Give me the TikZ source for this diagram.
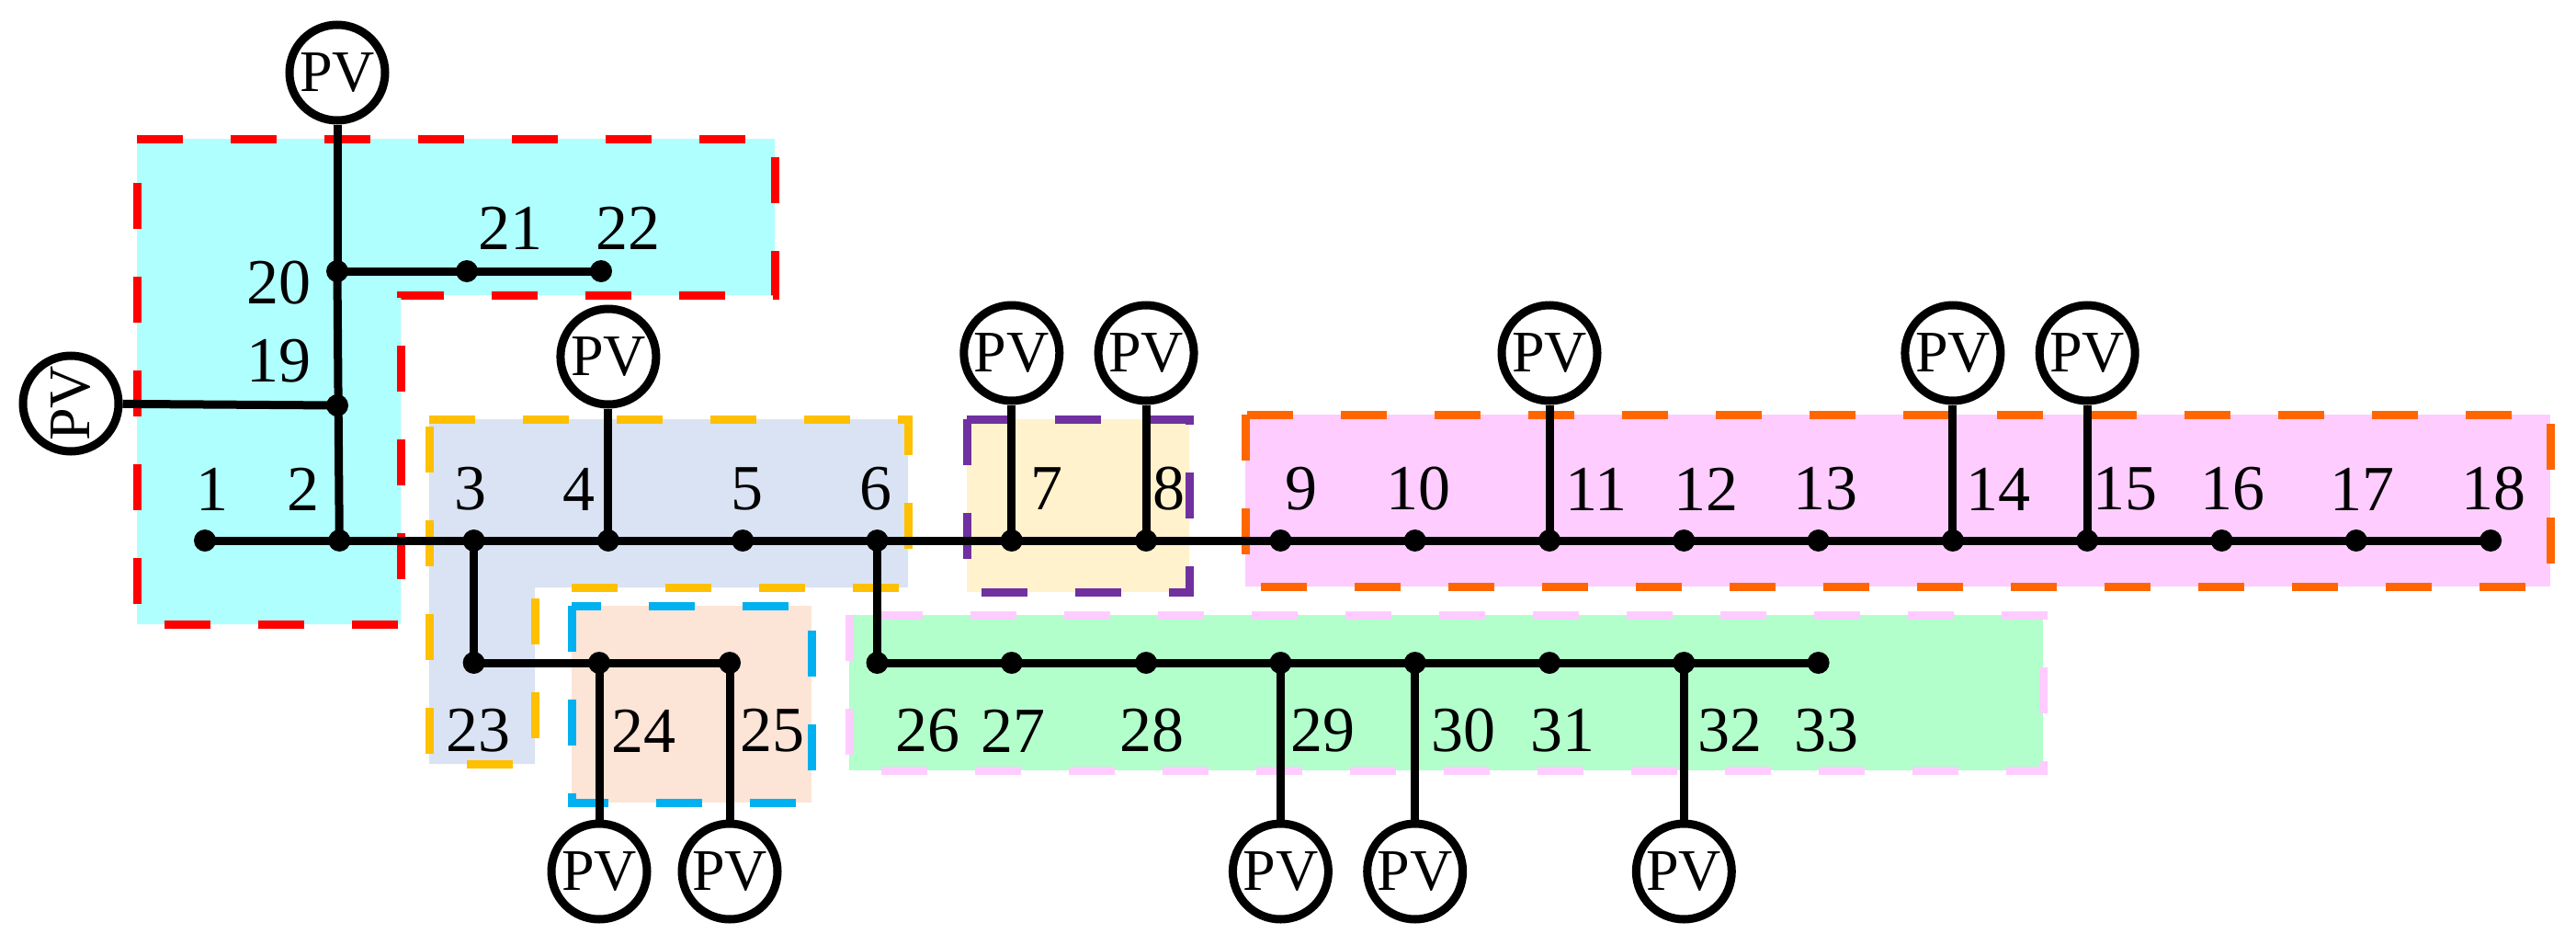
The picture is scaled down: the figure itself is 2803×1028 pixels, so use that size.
\documentclass[tikz,border=0pt]{standalone}
\usepackage{fontspec}
\setmainfont{Liberation Serif}
\begin{document}
\begin{tikzpicture}[x=1pt,y=-1pt,
  zone/.style={line width=9pt,dash pattern=on 50pt off 52pt},
  wire/.style={line width=9pt,black},
  bus/.style={circle,fill=black,inner sep=0pt,minimum size=24pt},
  pv/.style={circle,draw,line width=9pt,fill=white,inner sep=0pt,minimum size=104pt,font=\fontsize{64}{64}\selectfont},
  lab/.style={font=\fontsize{70}{70}\selectfont,inner sep=0pt}]
\useasboundingbox (0,0) rectangle (2803,1028);
\definecolor{cyanf}{HTML}{B0FFFF}\definecolor{bluef}{HTML}{DAE3F3}
\definecolor{peach}{HTML}{FCE4D6}\definecolor{yelf}{HTML}{FFF2CC}
\definecolor{pinkf}{HTML}{FFCCFF}\definecolor{greenf}{HTML}{B3FFCC}
\definecolor{yel}{HTML}{FFC000}\definecolor{purp}{HTML}{7030A0}
\definecolor{skyb}{HTML}{00B0F0}\definecolor{oran}{HTML}{FF6600}
% zones
\fill[cyanf] (149,151) -- (843,151) -- (843,321) -- (436,321) -- (436,679) -- (149,679) -- cycle;
\draw[zone,red] (149,151) -- (843,151) -- (843,321) -- (436,321) -- (436,679) -- (149,679) -- cycle;
\fill[bluef] (467,456) -- (988,456) -- (988,639) -- (582,639) -- (582,831) -- (467,831) -- cycle;
\draw[zone,yel] (467,456) -- (988,456) -- (988,639) -- (582,639) -- (582,831) -- (467,831) -- cycle;
\fill[peach] (622,659) rectangle (883,873);
\draw[zone,skyb] (622,659) rectangle (883,873);
\fill[yelf] (1052,456) rectangle (1294,644);
\draw[zone,purp] (1052,456) rectangle (1294,644);
\fill[pinkf] (1355,451) rectangle (2775,638);
\draw[zone,oran] (1355,451) rectangle (2775,638);
\fill[greenf] (924,669) rectangle (2223,838);
\draw[zone,pinkf] (924,669) rectangle (2223,838);
% buses
\foreach \i in {1,...,18}{\node[bus] (b\i) at ({223+(\i-1)*146.3},588) {};}
\node[bus] (b19) at (367,441) {};
\node[bus] (b20) at (367,295) {};
\node[bus] (b21) at (508,295) {};
\node[bus] (b22) at (654,295) {};
\node[bus] (b23) at ({223+2*146.3},721) {};
\node[bus] (b24) at (652,721) {};
\node[bus] (b25) at (794,721) {};
\foreach \i [evaluate=\i as \k using int(\i-21)] in {26,...,33}{\node[bus] (b\i) at ({223+\k*146.3},721) {};}
% wires
\draw[wire] (b1.center) -- (b18.center);
\draw[wire] (b2.center) -- (b20.center);
\draw[wire] (b20.center) -- (b22.center);
\draw[wire] (b3.center) -- (b23.center) -- (b25.center);
\draw[wire] (b6.center) -- (b26.center) -- (b33.center);
% PV
\node[pv] (p20) at (367,79) {PV};
\node[pv,rotate=90] (p19) at (77,439) {PV};
\node[pv] (p4) at (b4|-0,388) {PV};
\node[pv] (p7) at (b7|-0,384) {PV};
\node[pv] (p8) at (b8|-0,384) {PV};
\node[pv] (p11) at (b11|-0,384) {PV};
\node[pv] (p14) at (b14|-0,384) {PV};
\node[pv] (p15) at (b15|-0,384) {PV};
\node[pv] (p24) at (652,948) {PV};
\node[pv] (p25) at (794,948) {PV};
\node[pv] (p29) at (b29|-0,948) {PV};
\node[pv] (p30) at (b30|-0,948) {PV};
\node[pv] (p32) at (b32|-0,948) {PV};
\draw[wire] (p20) -- (b20.center);
\draw[wire] (p19) -- (b19.center);
\foreach \i in {4,7,8,11,14,15,24,25,29,30,32}{\draw[wire] (p\i) -- (b\i.center);}
% labels
\foreach \n/\x in {1/231,2/330,3/512,4/630,5/813,6/953,7/1139,8/1272,9/1416,10/1543,11/1737,12/1856,13/1986,14/2174,15/2312,16/2429,17/2570,18/2713}
  {\node[lab] (l\n) at (\x,532) {\n};}
\foreach \n/\x in {23/520,24/700,25/840,26/1009,27/1102,28/1253,29/1439,30/1592,31/1700,32/1882,33/1987}
  {\node[lab] (l\n) at (\x,795) {\n};}
\node[lab] (l19) at (303,393) {19};
\node[lab] (l20) at (303,308) {20};
\node[lab] (l21) at (555,248) {21};
\node[lab] (l22) at (683,248) {22};
\end{tikzpicture}
\end{document}
